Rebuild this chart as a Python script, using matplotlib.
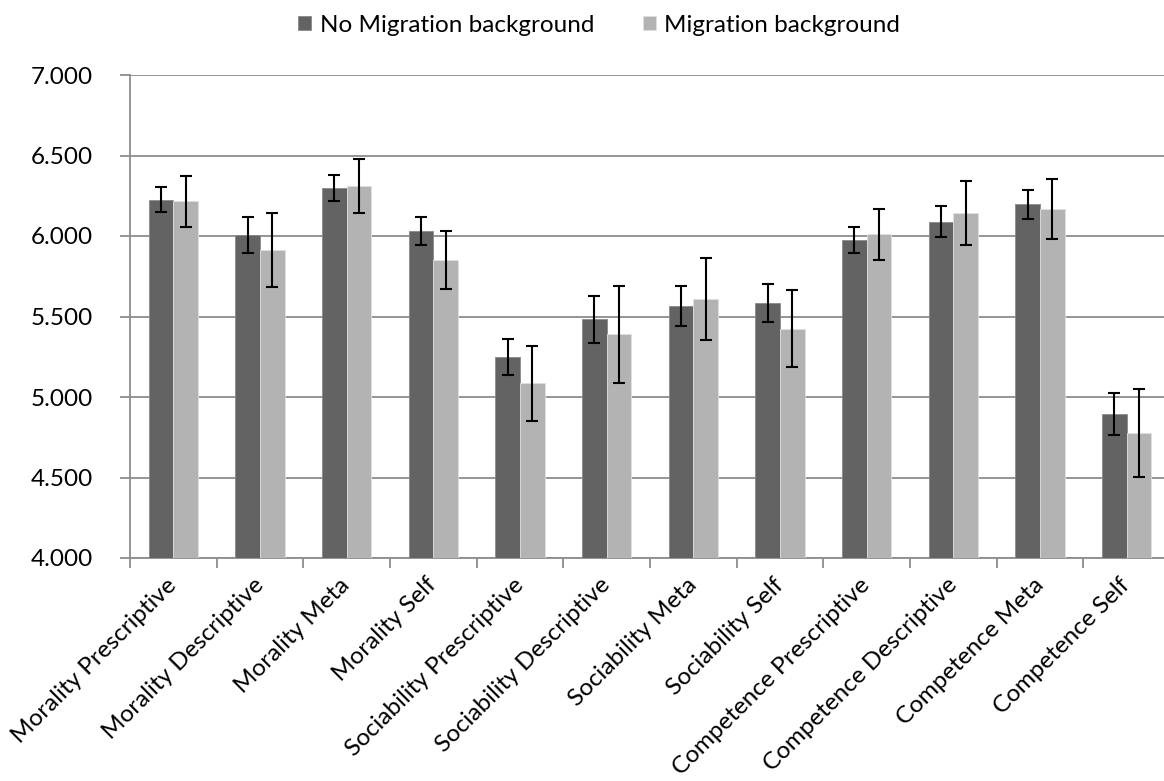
import numpy as np
import matplotlib
matplotlib.use("Agg")
import matplotlib.pyplot as plt
from matplotlib.ticker import FixedLocator, NullFormatter, FormatStrFormatter

categories = [
    "Morality Prescriptive", "Morality Descriptive", "Morality Meta", "Morality Self",
    "Sociability Prescriptive", "Sociability Descriptive", "Sociability Meta", "Sociability Self",
    "Competence Prescriptive", "Competence Descriptive", "Competence Meta", "Competence Self",
]
no_migration = [6.224, 6.006, 6.300, 6.033, 5.246, 5.482, 5.567, 5.584, 5.975, 6.089, 6.197, 4.894]
no_migration_err = [0.078, 0.111, 0.081, 0.087, 0.112, 0.145, 0.123, 0.116, 0.078, 0.095, 0.090, 0.132]
migration = [6.215, 5.913, 6.312, 5.853, 5.085, 5.389, 5.609, 5.424, 6.010, 6.143, 6.166, 4.775]
migration_err = [0.160, 0.230, 0.167, 0.180, 0.232, 0.299, 0.254, 0.238, 0.160, 0.198, 0.187, 0.272]
series_names = ["No Migration background", "Migration background"]

plt.rcParams['font.family'] = ['Lato', 'DejaVu Sans']

W, H = 1164, 781
fig = plt.figure(figsize=(W / 100, H / 100), dpi=100)
ax = fig.add_axes([130 / W, (H - 558) / H, 1040 / W, 483 / H])

x = np.arange(len(categories))
bw = 0.283
err_kw = dict(ecolor='black', elinewidth=1.5, capsize=4.3, capthick=1.5)
ax.bar(x - bw / 2, no_migration, bw, yerr=no_migration_err, color='#636363',
       edgecolor='#8a8a8a', linewidth=0.6, label=series_names[0], error_kw=err_kw, zorder=3)
ax.bar(x + bw / 2, migration, bw, yerr=migration_err, color='#b3b3b3',
       edgecolor='#e0e0e0', linewidth=0.6, label=series_names[1], error_kw=err_kw, zorder=3)

ax.set_xlim(-0.5, len(categories) - 0.5)
ax.set_ylim(4.0, 7.0)
ax.set_yticks(np.arange(4.0, 7.01, 0.5))
ax.yaxis.set_major_formatter(FormatStrFormatter('%.3f'))
ax.grid(axis='y', color='#8c8c8c', linewidth=1.3, zorder=0)

# category boundaries carry the tick marks, centres carry the labels
ax.xaxis.set_major_locator(FixedLocator(np.arange(-0.5, len(categories), 1.0)))
ax.xaxis.set_major_formatter(NullFormatter())
ax.xaxis.set_minor_locator(FixedLocator(x))
ax.set_xticklabels(categories, minor=True, rotation=45, ha='right', va='center',
                   rotation_mode='anchor', fontsize=17.5)
ax.tick_params(axis='x', which='minor', length=0, pad=17)
ax.tick_params(axis='x', which='major', length=7, width=1.3, color='#8c8c8c')
ax.tick_params(axis='y', length=7, width=1.3, color='#8c8c8c', labelsize=17.5, pad=20)

for side in ('top', 'right'):
    ax.spines[side].set_visible(False)
for side in ('left', 'bottom'):
    ax.spines[side].set_color('#8c8c8c')
    ax.spines[side].set_linewidth(1.3)

handles, labels = ax.get_legend_handles_labels()
fig.legend(handles, labels, loc='center', bbox_to_anchor=(599 / W, 1 - 25 / H),
           ncol=2, frameon=False, fontsize=17.5, handlelength=0.55, handleheight=0.55,
           handletextpad=0.35, columnspacing=2.0)

fig.savefig("out.png", dpi=100)
